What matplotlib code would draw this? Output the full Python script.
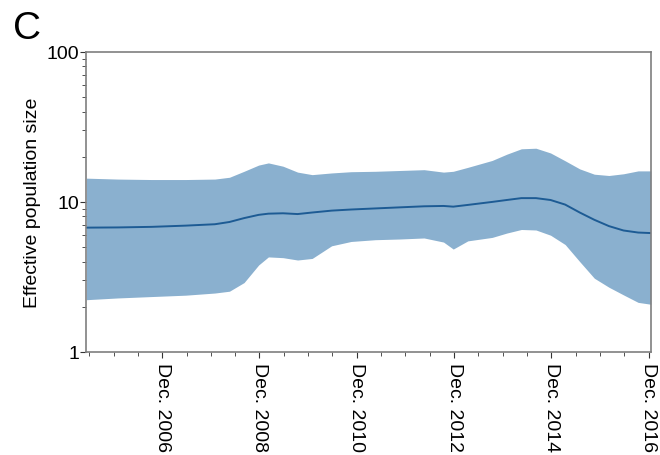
import matplotlib
matplotlib.use("Agg")
import matplotlib.pyplot as plt
from matplotlib.ticker import FixedLocator, NullFormatter, LogLocator

plt.rcParams["font.family"] = ["Liberation Sans", "DejaVu Sans"]

# skyline estimate, decimal years
years = [2005.36, 2006.0, 2006.7, 2007.4, 2008.0, 2008.3, 2008.6, 2008.9,
         2009.1, 2009.4, 2009.7, 2010.0, 2010.4, 2010.8, 2011.3, 2011.8,
         2012.3, 2012.7, 2012.9, 2013.2, 2013.7, 2014.0, 2014.3, 2014.6,
         2014.9, 2015.2, 2015.5, 2015.8, 2016.1, 2016.4, 2016.7, 2016.96]
median = [6.74, 6.76, 6.82, 6.95, 7.1, 7.35, 7.8, 8.2,
          8.35, 8.4, 8.3, 8.5, 8.75, 8.9, 9.05, 9.2,
          9.35, 9.4, 9.3, 9.55, 10.0, 10.3, 10.6, 10.6,
          10.3, 9.6, 8.5, 7.6, 6.9, 6.45, 6.25, 6.2]
upper = [14.4, 14.2, 14.1, 14.1, 14.2, 14.6, 16.0, 17.6,
         18.2, 17.3, 15.8, 15.2, 15.6, 15.9, 16.0, 16.2,
         16.4, 15.8, 16.0, 17.0, 18.9, 20.8, 22.6, 22.8,
         21.2, 18.8, 16.6, 15.3, 15.0, 15.4, 16.1, 16.1]
lower = [2.23, 2.29, 2.34, 2.39, 2.47, 2.54, 2.9, 3.8,
         4.3, 4.25, 4.1, 4.2, 5.1, 5.45, 5.6, 5.66,
         5.75, 5.4, 4.85, 5.5, 5.8, 6.2, 6.55, 6.5,
         6.0, 5.2, 4.0, 3.1, 2.7, 2.4, 2.14, 2.08]

label_years = [2006.917, 2008.917, 2010.917, 2012.917, 2014.917, 2016.917]
label_text = ["Dec. 2006", "Dec. 2008", "Dec. 2010",
              "Dec. 2012", "Dec. 2014", "Dec. 2016"]
half_year_ticks = [2005.417 + 0.5 * i for i in range(24)]

fig = plt.figure(figsize=(6.6, 4.56), dpi=100)
ax = fig.add_axes([0.131, 0.226, 0.855, 0.658])

ax.fill_between(years, lower, upper, color="#8ab0cf", lw=0)
ax.plot(years, median, color="#1d5b94", lw=1.4)

ax.set_yscale("log")
ax.set_ylim(1, 100)
ax.set_xlim(2005.36, 2016.96)
ax.yaxis.set_major_locator(FixedLocator([1, 10, 100]))
ax.set_yticklabels(["1", "10", "100"])
ax.yaxis.set_minor_locator(LogLocator(base=10, subs=range(2, 10)))
ax.yaxis.set_minor_formatter(NullFormatter())

ax.xaxis.set_major_locator(FixedLocator(label_years))
ax.set_xticklabels(label_text, rotation=-90, ha="center", va="top")
ax.xaxis.set_minor_locator(FixedLocator(half_year_ticks))

ax.tick_params(axis="both", which="major", labelsize=14, length=4,
               width=0.8, color="#333333", pad=3)
ax.tick_params(axis="both", which="minor", length=3, width=0.6,
               color="#333333")
ax.tick_params(axis="y", which="major", pad=1)

for s in ax.spines.values():
    s.set_color("#7f7f7f")
    s.set_linewidth(1.2)

ax.set_ylabel("Effective population size", fontsize=14, labelpad=4)
fig.text(0.02, 0.975, "C", fontsize=28, va="top", ha="left")

fig.savefig("out.png", dpi=100)
